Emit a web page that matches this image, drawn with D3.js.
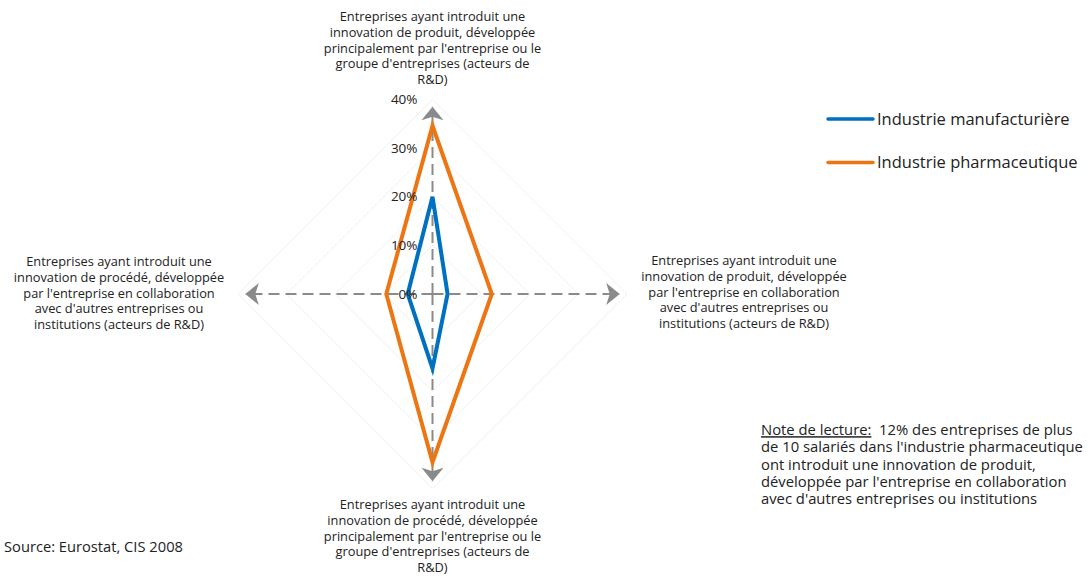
<!DOCTYPE html>
<html>
<head>
<meta charset="utf-8">
<script src="https://cdn.jsdelivr.net/npm/d3@7"></script>
<style>
  body { margin: 0; background: #fff; }
  svg { font-family: "Open Sans", "Noto Sans", sans-serif; }
</style>
</head>
<body>
<svg width="1089" height="576"></svg>
<script>
// axes clockwise from the top
const axes = [
  ["Entreprises ayant introduit une", "innovation de produit, développée", "principalement par l'entreprise ou le", "groupe d'entreprises (acteurs de", "R&D)"],
  ["Entreprises ayant introduit une", "innovation de produit, développée", "par l'entreprise en collaboration", "avec d'autres entreprises ou", "institutions (acteurs de R&D)"],
  ["Entreprises ayant introduit une", "innovation de procédé, développée", "principalement par l'entreprise ou le", "groupe d'entreprises (acteurs de", "R&D)"],
  ["Entreprises ayant introduit une", "innovation de procédé, développée", "par l'entreprise en collaboration", "avec d'autres entreprises ou", "institutions (acteurs de R&D)"]
];
const seriesNames = ["Industrie manufacturière", "Industrie pharmaceutique"];
const manufacturiere = [20, 3.1, 15.3, 5.1];
const pharmaceutique = [34.6, 12.2, 34.6, 9.5];
const ticks = [0, 10, 20, 30, 40];
const tickLabels = ["0%", "10%", "20%", "30%", "40%"];
const colors = ["#0070c0", "#ec7613"];

function drawTheGraph() {
  const svg = d3.select("svg"),
        cx = 432.5, cy = 294,
        g = svg.append("g").attr("transform", `translate(${cx},${cy})`);

  const r = d3.scaleLinear().domain([0, 40]).range([0, 194.5]);
  const angle = i => i * Math.PI / 2;
  const pt = (v, i) => [Math.sin(angle(i)) * r(v), -Math.cos(angle(i)) * r(v)];

  svg.append("defs").append("marker")
     .attr("id", "arrow")
     .attr("markerUnits", "userSpaceOnUse")
     .attr("viewBox", "-14 -12 15 24")
     .attr("markerWidth", 15)
     .attr("markerHeight", 24)
     .attr("refX", 0)
     .attr("refY", 0)
     .attr("orient", "auto")
     .append("path")
     .attr("d", "M0,0 L-13.5,-11 L-10,0 L-13.5,11 Z")
     .attr("fill", "#8a8a8a");

  // grid
  g.selectAll(".grid")
   .data(ticks.slice(1))
   .enter().append("polygon")
   .attr("class", "grid")
   .attr("points", t => axes.map((a, i) => pt(t, i).join(",")).join(" "))
   .attr("fill", "none")
   .attr("stroke", "#f0f0f0")
   .attr("stroke-width", 1);

  // axes
  g.selectAll(".axis")
   .data(axes)
   .enter().append("line")
   .attr("class", "axis")
   .attr("x1", 0).attr("y1", 0)
   .attr("x2", (d, i) => pt(38.5, i)[0])
   .attr("y2", (d, i) => pt(38.5, i)[1])
   .attr("stroke", "#8a8a8a")
   .attr("stroke-width", 2)
   .attr("stroke-dasharray", "11,6")
   .attr("marker-end", "url(#arrow)");

  // series
  const line = d3.line().curve(d3.curveLinearClosed);
  g.selectAll(".series")
   .data([manufacturiere, pharmaceutique])
   .enter().append("path")
   .attr("class", "series")
   .attr("d", vals => line(vals.map((v, i) => pt(v, i))))
   .attr("fill", "none")
   .attr("stroke", (d, i) => colors[i])
   .attr("stroke-width", 4)
   .attr("stroke-linejoin", "miter");

  // tick labels
  g.selectAll(".tick")
   .data(ticks)
   .enter().append("text")
   .attr("class", "tick")
   .attr("x", -15)
   .attr("y", t => -r(t))
   .attr("dy", "0.35em")
   .attr("text-anchor", "end")
   .attr("font-size", 13.5)
   .attr("fill", "#222")
   .text((t, i) => tickLabels[i]);

  // axis labels
  const lh = 15.6;
  const labelPos = [
    { x: 0, y: 17 - cy },
    { x: 744 - cx, y: 261 - cy },
    { x: 0, y: 505 - cy },
    { x: 119 - cx, y: 262 - cy }
  ];
  g.selectAll(".lab")
   .data(axes)
   .enter().append("text")
   .attr("class", "lab")
   .attr("text-anchor", "middle")
   .attr("font-size", 12.8)
   .attr("fill", "#222")
   .each(function(lines, i) {
     d3.select(this).selectAll("tspan")
       .data(lines)
       .enter().append("tspan")
       .attr("x", labelPos[i].x)
       .attr("y", (l, j) => labelPos[i].y + j * lh)
       .attr("dy", "0.35em")
       .text(l => l);
   });

  // legend
  const legend = svg.append("g")
                    .attr("class", "legend")
                    .attr("transform", "translate(828,119)");
  seriesNames.forEach((name, i) => {
    legend.append("line")
          .attr("x1", 0).attr("x2", 45)
          .attr("y1", i * 43.5).attr("y2", i * 43.5)
          .attr("stroke", colors[i])
          .attr("stroke-width", 3.5)
          .attr("stroke-linecap", "round");
    legend.append("text")
          .attr("x", 49)
          .attr("y", i * 43.5)
          .attr("dy", "0.35em")
          .attr("font-size", 16.5)
          .attr("fill", "#222")
          .text(name);
  });

  // note
  const note = svg.append("text")
                  .attr("font-size", 14.8)
                  .attr("fill", "#222");
  const noteLines = [
    "de 10 salariés dans l'industrie pharmaceutique",
    "ont introduit une innovation de produit,",
    "développée par l'entreprise en collaboration",
    "avec d'autres entreprises ou institutions"
  ];
  const first = note.append("tspan").attr("x", 761).attr("y", 430).attr("dy", "0.35em");
  first.append("tspan").attr("text-decoration", "underline").text("Note de lecture:");
  first.append("tspan").text("\u00a0 12% des entreprises de plus");
  noteLines.forEach((l, j) => {
    note.append("tspan")
        .attr("x", 761)
        .attr("y", 430 + (j + 1) * 17.3)
        .attr("dy", "0.35em")
        .text(l);
  });

  svg.append("text")
     .attr("x", 4)
     .attr("y", 547)
     .attr("dy", "0.35em")
     .attr("font-size", 14.7)
     .attr("fill", "#222")
     .text("Source: Eurostat, CIS 2008");
}
drawTheGraph();
</script>
</body>
</html>
